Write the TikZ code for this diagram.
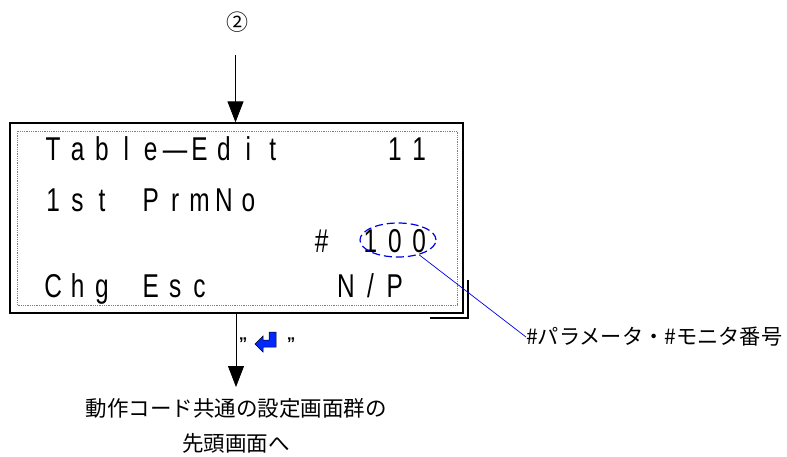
\documentclass[tikz,border=0pt]{standalone}
\usepackage{fontspec}
\setmainfont{Liberation Sans}
\newfontfamily\lcdfont[FakeStretch=0.74]{Liberation Sans}
\newfontfamily\jpfont{Noto Sans CJK JP}
\usetikzlibrary{arrows.meta,shapes.geometric}
\newlength\cellw \setlength\cellw{24.4pt}
\newcommand\lcd[1]{\lcdloop#1\relax}
\def\lcdloop#1{\ifx#1\relax\else\makebox[\cellw]{#1}\expandafter\lcdloop\fi}
\definecolor{hlblue}{RGB}{0,0,230}
\definecolor{keyblue}{RGB}{0,40,255}
\begin{document}
\begin{tikzpicture}[x=1pt,y=-1pt,
  lcdtext/.style={inner sep=0pt, anchor=base west, font=\lcdfont\fontsize{33}{33}\selectfont},
  jptext/.style={inner sep=0pt, font=\jpfont\fontsize{21}{31}\selectfont},
  arr/.style={line width=0.8pt, -{Triangle[length=21pt,width=16pt]}},
  leader/.style={hlblue, line width=0.7pt},
  shadowline/.style={line width=1.6pt}]
\useasboundingbox (0,0) rectangle (787,456);
% screen frame
\node[draw, line width=1.3pt, minimum width=453pt, minimum height=190pt, inner sep=0pt] (scr) at (236.5,218) {};
\draw[gray, densely dotted, line width=0.8pt] (17,131) rectangle (457,305);
\draw[shadowline] (430,318) -- (468,318) -- (468,280);
% LCD text
\node[lcdtext] (r1) at (40.8,160) {\lcd{Table—Edit~~~~11}};
\node[lcdtext] (r2) at (40.8,211) {\lcd{1st~PrmNo}};
\node[lcdtext] (r3) at (309.2,252) {\lcd{\#~100}};
\node[lcdtext] (r4) at (40.8,297) {\lcd{Chg~Esc~~~~~N/P}};
% highlight
\node[draw=hlblue, dashed, dash pattern=on 8pt off 4pt, line width=1.2pt, ellipse, minimum width=76pt, minimum height=34pt, inner sep=0pt] (hl) at (398,240) {};
\node[jptext, anchor=west, font=\jpfont\fontsize{21.2}{21}\selectfont] (lbl) at (526,337) {\#パラメータ・\#モニタ番号};
\draw[leader] (hl.-35) -- (lbl.west);
% top arrow
\node[jptext, font=\jpfont\fontsize{22}{22}\selectfont] (c2) at (237,22) {②};
\coordinate (topstart) at (235.5,55);
\draw[arr] (topstart) -- (topstart |- scr.north);
% bottom arrow
\coordinate (botend) at (236,387);
\draw[arr] (botend |- scr.south) -- (botend);
\node[jptext, align=center, font=\jpfont\fontsize{21.5}{35}\selectfont] (dst) at (236,426) {動作コード共通の設定画面群の\\先頭画面へ};
% key label
\node[inner sep=0pt, font=\fontsize{17}{17}\bfseries\selectfont] (q1) at (243,344) {”};
\node[inner sep=0pt, font=\fontsize{17}{17}\bfseries\selectfont] (q2) at (291,344) {”};
\draw[fill=keyblue, draw=black, line width=0.5pt, line join=miter]
  (255,344) -- (263,336) -- (263,340) -- (269,340) -- (269,332) -- (276,332)
  -- (276,347) -- (263,347) -- (263,352) -- cycle;
\end{tikzpicture}
\end{document}
